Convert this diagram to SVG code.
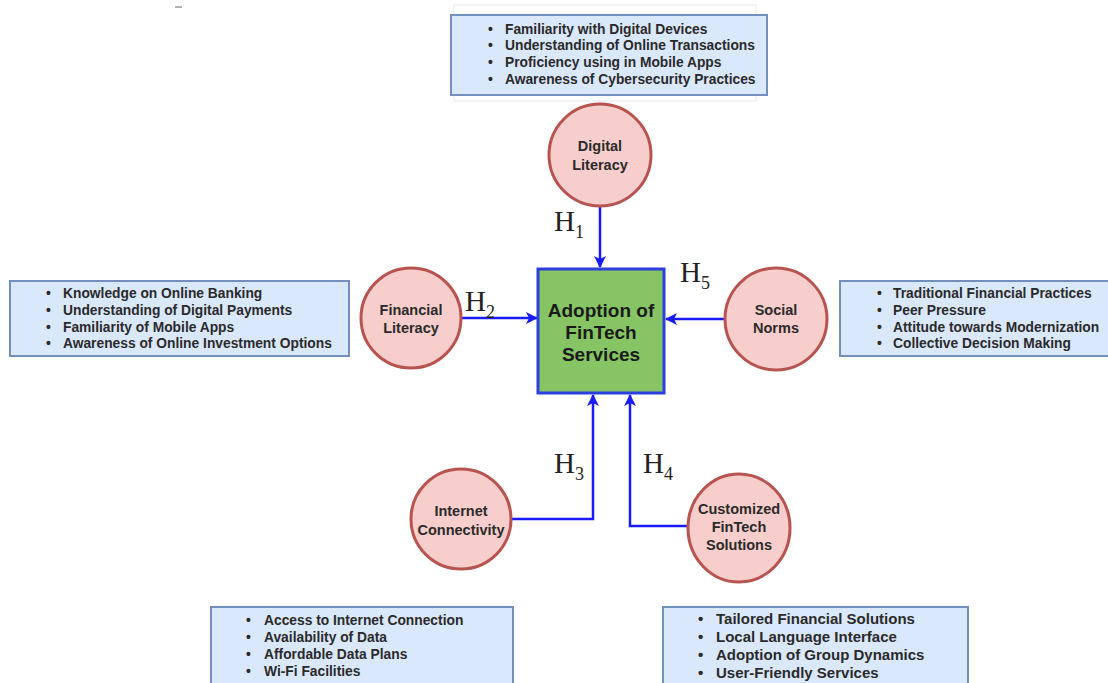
<svg xmlns="http://www.w3.org/2000/svg" width="1108" height="683" viewBox="0 0 1108 683">
<defs>
<marker id="arr" markerWidth="12" markerHeight="12" viewBox="0 0 12 12" refX="11" refY="6" orient="auto" markerUnits="userSpaceOnUse">
<path d="M0,0 L12,6 L0,12 L3,6 z" fill="#1a1aff"/>
</marker>
<style>
.box{fill:#dae8fc;stroke:#7390bd;stroke-width:2}
.circ{fill:#f8cecc;stroke:#b85450;stroke-width:3}
.bt{font-family:"Liberation Sans",Arial,sans-serif;font-weight:bold;font-size:13.8px;fill:#2a2a2a}
.ct{font-family:"Liberation Sans",Arial,sans-serif;font-weight:bold;font-size:14.5px;fill:#2a2a2a;text-anchor:middle}
.main{font-family:"Liberation Sans",Arial,sans-serif;font-weight:bold;font-size:19px;fill:#1a1a1a;text-anchor:middle}
.h{font-family:"Liberation Serif","Times New Roman",serif;font-size:29px;fill:#222}
.sub{font-size:18px}
.conn{fill:none;stroke:#1a1aff;stroke-width:2.5;marker-end:url(#arr)}
</style>
</defs>
<rect width="1108" height="683" fill="#ffffff"/>
<line x1="175" y1="7" x2="182" y2="7" stroke="#666" stroke-width="1"/>

<g id="connectors">
<path class="conn" d="M600,207 L600,267"/>
<path class="conn" d="M461,318 L537,318"/>
<path class="conn" d="M725,319 L666,319"/>
<path class="conn" d="M511,519 L593,519 L593,395"/>
<path class="conn" d="M688,526 L630,526 L630,395"/>
<text class="h" x="554" y="231">H<tspan class="sub" dy="7">1</tspan></text>
<text class="h" x="465" y="311">H<tspan class="sub" dy="7">2</tspan></text>
<text class="h" x="554" y="473">H<tspan class="sub" dy="7">3</tspan></text>
<text class="h" x="643" y="473">H<tspan class="sub" dy="7">4</tspan></text>
<text class="h" x="680" y="282">H<tspan class="sub" dy="7">5</tspan></text>
</g>

<g id="center">
<rect x="538" y="269" width="126" height="124" fill="#86c464" stroke="#2b3fe0" stroke-width="3"/>
<text class="main" x="601" y="317">Adoption of</text>
<text class="main" x="601" y="339">FinTech</text>
<text class="main" x="601" y="361">Services</text>
</g>

<g id="digital-literacy">
<circle class="circ" cx="600" cy="155" r="51"/>
<text class="ct" x="600" y="151">Digital</text>
<text class="ct" x="600" y="170">Literacy</text>
</g>

<g id="financial-literacy">
<circle class="circ" cx="411" cy="318" r="50"/>
<text class="ct" x="411" y="315">Financial</text>
<text class="ct" x="411" y="333">Literacy</text>
</g>

<g id="social-norms">
<ellipse class="circ" cx="776" cy="319" rx="51" ry="51"/>
<text class="ct" x="776" y="315">Social</text>
<text class="ct" x="776" y="333">Norms</text>
</g>

<g id="internet-connectivity">
<circle class="circ" cx="461" cy="519" r="50"/>
<text class="ct" x="461" y="516">Internet</text>
<text class="ct" x="461" y="535">Connectivity</text>
</g>

<g id="customized-fintech">
<ellipse class="circ" cx="739" cy="528" rx="51" ry="54"/>
<text class="ct" x="739" y="514">Customized</text>
<text class="ct" x="739" y="532">FinTech</text>
<text class="ct" x="739" y="550">Solutions</text>
</g>

<g id="box-digital">
<rect x="454" y="5" width="302" height="96" fill="none" stroke="#e3e8ee" stroke-width="1"/>
<rect class="box" x="451" y="15" width="316" height="80"/>
<text class="bt" x="488" y="34">•</text><text class="bt" x="505" y="34">Familiarity with Digital Devices</text>
<text class="bt" x="488" y="50">•</text><text class="bt" x="505" y="50">Understanding of Online Transactions</text>
<text class="bt" x="488" y="67">•</text><text class="bt" x="505" y="67">Proficiency using in Mobile Apps</text>
<text class="bt" x="488" y="84">•</text><text class="bt" x="505" y="84">Awareness of Cybersecurity Practices</text>
</g>

<g id="box-financial">
<rect class="box" x="10" y="281" width="339" height="75"/>
<text class="bt" x="46" y="298">•</text><text class="bt" x="63" y="298">Knowledge on Online Banking</text>
<text class="bt" x="46" y="315">•</text><text class="bt" x="63" y="315">Understanding of Digital Payments</text>
<text class="bt" x="46" y="332">•</text><text class="bt" x="63" y="332">Familiarity of Mobile Apps</text>
<text class="bt" x="46" y="348">•</text><text class="bt" x="63" y="348">Awareness of Online Investment Options</text>
</g>

<g id="box-social">
<rect class="box" x="840" y="281" width="272" height="75"/>
<text class="bt" x="877" y="298">•</text><text class="bt" x="893" y="298">Traditional Financial Practices</text>
<text class="bt" x="877" y="315">•</text><text class="bt" x="893" y="315">Peer Pressure</text>
<text class="bt" x="877" y="332">•</text><text class="bt" x="893" y="332">Attitude towards Modernization</text>
<text class="bt" x="877" y="348">•</text><text class="bt" x="893" y="348">Collective Decision Making</text>
</g>

<g id="box-internet">
<rect class="box" x="211" y="607" width="302" height="80"/>
<text class="bt" x="246" y="625">•</text><text class="bt" x="264" y="625">Access to Internet Connection</text>
<text class="bt" x="246" y="642">•</text><text class="bt" x="264" y="642">Availability of Data</text>
<text class="bt" x="246" y="659">•</text><text class="bt" x="264" y="659">Affordable Data Plans</text>
<text class="bt" x="246" y="676">•</text><text class="bt" x="264" y="676">Wi-Fi Facilities</text>
</g>

<g id="box-customized">
<rect class="box" x="663" y="607" width="305" height="80"/>
<text class="bt" x="698" y="624" style="font-size:15px">•</text><text class="bt" x="716" y="624" style="font-size:15px">Tailored Financial Solutions</text>
<text class="bt" x="698" y="642" style="font-size:15px">•</text><text class="bt" x="716" y="642" style="font-size:15px">Local Language Interface</text>
<text class="bt" x="698" y="660" style="font-size:15px">•</text><text class="bt" x="716" y="660" style="font-size:15px">Adoption of Group Dynamics</text>
<text class="bt" x="698" y="678" style="font-size:15px">•</text><text class="bt" x="716" y="678" style="font-size:15px">User-Friendly Services</text>
</g>
</svg>
